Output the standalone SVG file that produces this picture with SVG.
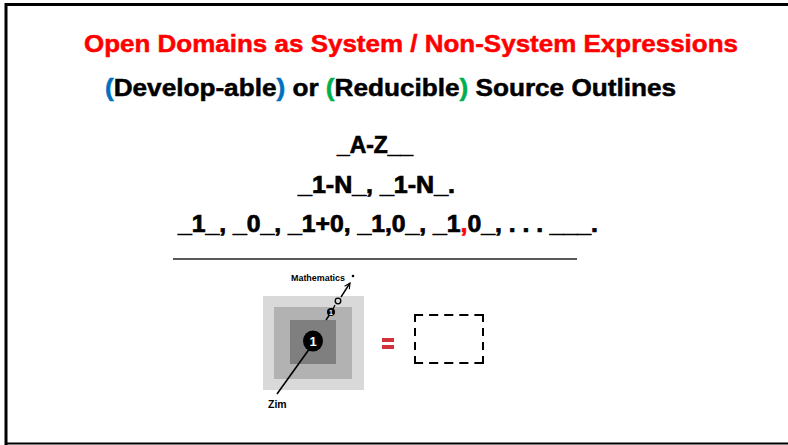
<svg xmlns="http://www.w3.org/2000/svg" width="788" height="445" viewBox="0 0 788 445">
<defs>
<style>
.b{font-family:"Liberation Sans",Arial,sans-serif;font-weight:bold}
.t{font-size:24px;stroke-width:0.5px}
.m{font-size:23px;fill:#000;stroke:#000;stroke-width:0.7px}
.dash{fill:none;stroke:#000;stroke-width:2}
</style>
<marker id="ah" viewBox="0 0 10 10" refX="9" refY="5" markerWidth="7" markerHeight="7" orient="auto" markerUnits="userSpaceOnUse">
<path d="M1,1 L9,5 L1,9" fill="none" stroke="#000" stroke-width="1.6"/>
</marker>
</defs>
<rect width="788" height="445" fill="#fff"/>
<g id="frame">
<path d="M6,445 V4.5 H788" fill="none" stroke="#000" stroke-width="3"/>
<line x1="6" y1="443.5" x2="788" y2="443.5" stroke="#000" stroke-width="2"/>
</g>
<g id="title">
<text class="b t" x="84" y="52" fill="#ff0000" stroke="#ff0000" textLength="654" lengthAdjust="spacingAndGlyphs">Open Domains as System / Non-System Expressions</text>
</g>
<g id="subtitle">
<text class="b t" x="105" y="96" fill="#000" stroke="#000" textLength="571" lengthAdjust="spacingAndGlyphs"><tspan fill="#0070c0" stroke="#0070c0">(</tspan>Develop-able<tspan fill="#0070c0" stroke="#0070c0">)</tspan> or <tspan fill="#00b050" stroke="#00b050">(</tspan>Reducible<tspan fill="#00b050" stroke="#00b050">)</tspan> Source Outlines</text>
</g>
<g id="line-az">
<text class="b m" x="337" y="153" textLength="76" lengthAdjust="spacingAndGlyphs">_A-Z__</text>
</g>
<g id="line-1n">
<text class="b m" x="298" y="193" textLength="157" lengthAdjust="spacingAndGlyphs">_1-N_, _1-N_.</text>
</g>
<g id="line-10">
<text class="b m" x="178" y="232" textLength="420" lengthAdjust="spacingAndGlyphs">_1_, _0_, _1+0, _1,0_, _1<tspan fill="#ff0000" stroke="#ff0000">,</tspan>0_, . . . ___.</text>
</g>
<g id="rule">
<line x1="173" y1="259" x2="577" y2="259" stroke="#222" stroke-width="1.5"/>
</g>
<g id="nested-squares">
<rect x="263" y="296" width="101" height="94" fill="#d9d9d9"/>
<rect x="274" y="307" width="78" height="72" fill="#b2b2b2"/>
<rect x="290" y="320" width="46" height="44" fill="#7f7f7f"/>
</g>
<g id="connectors">
<line x1="310" y1="348" x2="277" y2="394" stroke="#000" stroke-width="1.6"/>
<line x1="330" y1="314" x2="326" y2="320" stroke="#000" stroke-width="1.4"/>
<line x1="335" y1="305" x2="333" y2="309" stroke="#000" stroke-width="1.2"/>
<line x1="341" y1="297" x2="350" y2="283" stroke="#000" stroke-width="1.4" marker-end="url(#ah)"/>
</g>
<g id="zim-node">
<ellipse cx="313" cy="341" rx="10" ry="10.5" fill="#000"/>
<text class="b" x="313" y="346" font-size="13" fill="#fff" text-anchor="middle">1</text>
<text class="b" x="268" y="408" font-size="10.5" fill="#000">Zim</text>
</g>
<g id="mid-node">
<circle cx="331" cy="312" r="4" fill="#000"/>
<text class="b" x="331" y="315" font-size="7" fill="#fff" text-anchor="middle">1</text>
<circle cx="338" cy="301" r="2.8" fill="none" stroke="#000" stroke-width="1.3"/>
</g>
<g id="mathematics">
<text class="b" x="291" y="281" font-size="8.5" fill="#000" textLength="54" lengthAdjust="spacingAndGlyphs">Mathematics</text>
<circle cx="353" cy="276" r="1.3" fill="#000"/>
</g>
<g id="equals">
<rect x="382" y="338" width="12" height="4" fill="#d1323c"/>
<rect x="382" y="345" width="12" height="4" fill="#d1323c"/>
</g>
<g id="empty-box">
<line class="dash" x1="414" y1="315" x2="484" y2="315" stroke-dasharray="9.1 6"/>
<line class="dash" x1="414" y1="363" x2="484" y2="363" stroke-dasharray="9.1 6"/>
<line class="dash" x1="415" y1="314" x2="415" y2="364" stroke-dasharray="8 6"/>
<line class="dash" x1="483" y1="314" x2="483" y2="364" stroke-dasharray="8 6"/>
</g>
</svg>
